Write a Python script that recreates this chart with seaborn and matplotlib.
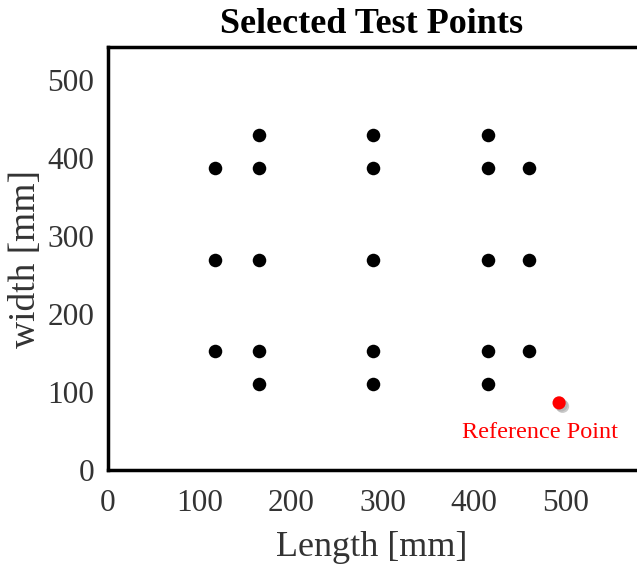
import matplotlib
matplotlib.use("Agg")
import matplotlib.pyplot as plt
import matplotlib.patheffects as pe
import numpy as np
import pandas as pd
import seaborn as sns

# Test point grid (length, width) in mm
length_mm = [117, 117, 117,
             165, 165, 165, 165, 165,
             290, 290, 290, 290, 290,
             415, 415, 415, 415, 415,
             460, 460, 460]
width_mm = [387, 269, 153,
            429, 387, 269, 153, 110,
            429, 387, 269, 153, 110,
            429, 387, 269, 153, 110,
            387, 269, 153]

ref_length = [493]
ref_width = [86]
ref_label = "Reference Point"

x_ticks = [0, 100, 200, 300, 400, 500]
y_ticks = [0, 100, 200, 300, 400, 500]

sns.set_style("white")
plt.rcParams["font.family"] = ["Liberation Serif", "DejaVu Serif"]

pts = pd.DataFrame({"Length": length_mm, "Width": width_mm})
ref = pd.DataFrame({"Length": ref_length, "Width": ref_width})

fig = plt.figure(figsize=(6.37, 5.73), dpi=100)
ax = fig.add_axes([108 / 637, 103 / 573, 549 / 637, 423 / 573])

sns.scatterplot(data=pts, x="Length", y="Width", ax=ax, color="black",
                s=95, edgecolor="black", linewidth=0, zorder=3)
sns.scatterplot(data=ref, x="Length", y="Width", ax=ax, color="red",
                s=90, edgecolor="red", linewidth=0, zorder=4)
# soft drop shadow under the reference marker
ax.collections[-1].set_path_effects([
    pe.SimplePatchShadow(offset=(2.5, -2.5), shadow_rgbFace="0.55", alpha=0.45),
    pe.SimplePatchShadow(offset=(1.5, -1.5), shadow_rgbFace="0.6", alpha=0.4),
    pe.Normal()])
ax.text(ref_length[0] - 21, ref_width[0] - 25, ref_label, color="red",
        fontsize=17.5, ha="center", va="top")

ax.set_xlim(0, 600)
ax.set_ylim(0, 542)
ax.set_xticks(x_ticks)
ax.set_yticks(y_ticks)
ax.tick_params(direction="in", length=4, width=1, color="#888888",
               labelsize=22.5, labelcolor="#333333")
ax.tick_params(axis="x", pad=14)
ax.tick_params(axis="y", pad=10)
for sp in ax.spines.values():
    sp.set_linewidth(2.5)
    sp.set_color("black")

ax.set_xlabel("Length [mm]", fontsize=26, color="#333333")
ax.xaxis.set_label_coords(0.48, -0.145)
ax.set_ylabel("width [mm]", fontsize=27, color="#333333")
ax.yaxis.set_label_coords(-0.118, 0.5)
ax.set_title("Selected Test Points", fontsize=26, fontweight="bold",
             color="black", x=0.48, pad=10)

fig.savefig("out.png", dpi=100)
